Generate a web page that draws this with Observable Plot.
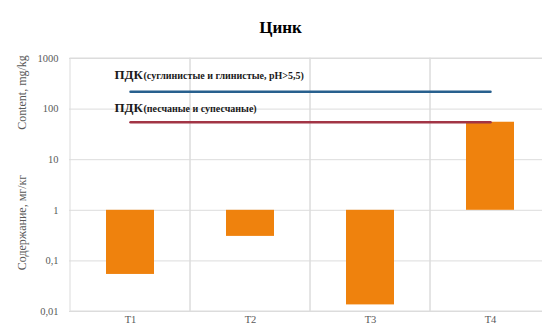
<!DOCTYPE html>
<html><head><meta charset="utf-8">
<script src="https://cdn.jsdelivr.net/npm/d3@7"></script>
<script src="https://cdn.jsdelivr.net/npm/@observablehq/plot@0.6"></script>
<style>
body{margin:0;background:#fff;}
#chart svg{display:block;}
#chart svg, #chart svg text, #chart svg g { font-family: "Liberation Serif", "Times New Roman", serif !important; }
</style>
</head><body><div id="chart"></div>
<script>
const title = "Цинк";
const categories = ["T1", "T2", "T3", "T4"];
const minValues = [0.054, 0.305, 0.0135, 1];
const maxValues = [1, 1, 1, 55];
const pdkLoamValues = [220, 220, 220, 220];
const pdkSandValues = [55, 55, 55, 55];
const yTicks = [0.01, 0.1, 1, 10, 100, 1000];
const yLabelEn = "Content, mg/kg";
const yLabelRu = "Содержание, мг/кг";
const pdkLoamLabel = ["ПДК", "(суглинистые и глинистые, pH>5,5)"];
const pdkSandLabel = ["ПДК", "(песчаные и супесчаные)"];

const bars = categories.map((c, i) => ({cat: c, lo: minValues[i], hi: maxValues[i]}));
const loam = categories.map((c, i) => ({cat: c, v: pdkLoamValues[i]}));
const sand = categories.map((c, i) => ({cat: c, v: pdkSandValues[i]}));
const grid = "#dcdcdc";
const axisColor = "#595959";
const serif = "Liberation Serif";
const fmt = d => String(d).replace(".", ",");

const chart = Plot.plot({
  width: 542,
  height: 329,
  marginLeft: 69,
  marginRight: 0,
  marginTop: 58,
  marginBottom: 18,
  style: {fontFamily: serif, background: "#fff"},
  x: {domain: categories, range: [69, 551], padding: 0, label: null},
  y: {type: "log", domain: [0.01, 1000], label: null},
  marks: [
    Plot.ruleY(yTicks, {stroke: grid, strokeWidth: 1}),
    Plot.barY(categories, {x: d => d, y1: yTicks[0], y2: yTicks[yTicks.length - 1], fill: "none", stroke: grid, strokeWidth: 1}),
    Plot.barY(bars, {x: "cat", y1: "lo", y2: "hi", fill: "#EF820D", insetLeft: 36, insetRight: 36}),
    Plot.lineY(loam, {x: "cat", y: "v", stroke: "#28608E", strokeWidth: 2.5}),
    Plot.lineY(sand, {x: "cat", y: "v", stroke: "#A23545", strokeWidth: 2.5}),
    Plot.text(loam.slice(0, 1), {x: "cat", y: "v", text: () => pdkLoamLabel[0], textAnchor: "start", lineAnchor: "bottom", dx: -16, dy: -13, fontSize: 13, fontWeight: "bold", fill: "#1a1a1a", fontFamily: serif}),
    Plot.text(loam.slice(0, 1), {x: "cat", y: "v", text: () => pdkLoamLabel[1], textAnchor: "start", lineAnchor: "bottom", dx: 13, dy: -13, fontSize: 10, fontWeight: "bold", fill: "#1a1a1a", fontFamily: serif}),
    Plot.text(sand.slice(0, 1), {x: "cat", y: "v", text: () => pdkSandLabel[0], textAnchor: "start", lineAnchor: "bottom", dx: -16, dy: -10, fontSize: 13, fontWeight: "bold", fill: "#1a1a1a", fontFamily: serif}),
    Plot.text(sand.slice(0, 1), {x: "cat", y: "v", text: () => pdkSandLabel[1], textAnchor: "start", lineAnchor: "bottom", dx: 13, dy: -10, fontSize: 10, fontWeight: "bold", fill: "#1a1a1a", fontFamily: serif}),
    Plot.axisY({ticks: yTicks, tickFormat: fmt, tickSize: 0, tickPadding: 11, fontSize: 10.5, color: axisColor, label: null, fontFamily: serif}),
    Plot.axisX({tickSize: 0, tickPadding: 4, fontSize: 10.5, color: axisColor, label: null, fontFamily: serif}),
    Plot.text([title], {frameAnchor: "top-left", dx: 211, dy: -38, textAnchor: "middle", fontSize: 17, fontWeight: "bold", fill: "#000", fontFamily: serif}),
    Plot.text([yLabelEn], {frameAnchor: "top-left", rotate: -90, dx: -52, dy: 34, textAnchor: "middle", fontSize: 12, fill: axisColor, fontFamily: serif}),
    Plot.text([yLabelRu], {frameAnchor: "top-left", rotate: -90, dx: -52, dy: 164, textAnchor: "middle", fontSize: 12, fill: axisColor, fontFamily: serif})
  ]
});
document.getElementById("chart").appendChild(chart);
</script>
</body></html>
